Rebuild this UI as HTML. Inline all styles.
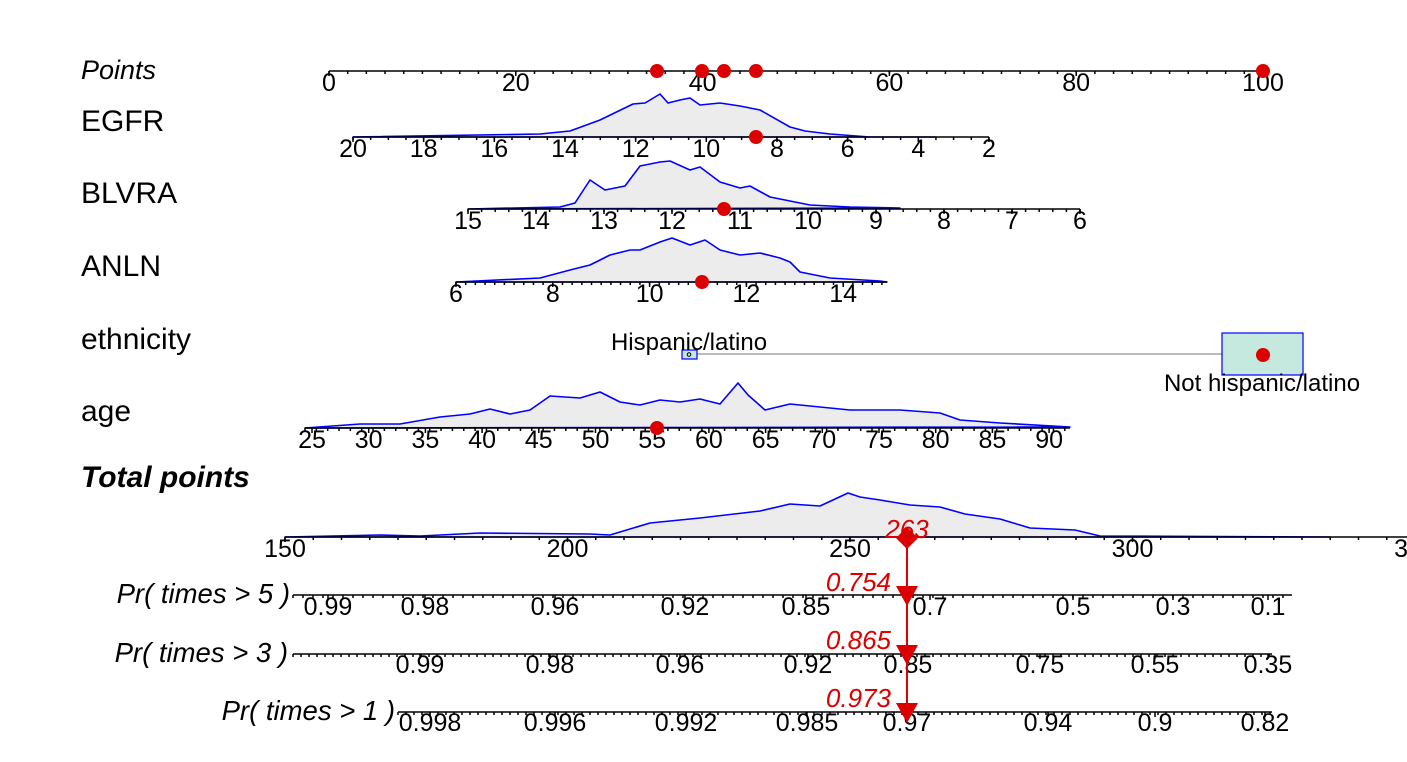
<!DOCTYPE html>
<html><head><meta charset="utf-8"><style>
html,body{margin:0;padding:0;background:#fff;}
svg{display:block;font-family:"Liberation Sans",Arial,sans-serif;}
</style></head><body>
<svg id="s" width="1407" height="762" viewBox="0 0 1407 762" xmlns="http://www.w3.org/2000/svg">
<g font-size="30" fill="#000">
<text x="81" y="79" font-style="italic" font-size="27">Points</text>
<text x="81" y="131">EGFR</text>
<text x="81" y="203">BLVRA</text>
<text x="81" y="276">ANLN</text>
<text x="81" y="349">ethnicity</text>
<text x="81" y="421">age</text>
<text x="81" y="487" font-weight="bold" font-style="italic">Total points</text>
<text x="290" y="603" font-style="italic" font-size="27.5" text-anchor="end">Pr( times &gt; 5 )</text>
<text x="288" y="662" font-style="italic" font-size="27.5" text-anchor="end">Pr( times &gt; 3 )</text>
<text x="395" y="720" font-style="italic" font-size="27.5" text-anchor="end">Pr( times &gt; 1 )</text>
</g>
<g fill="#ececec" stroke="#0000ff" stroke-width="1.6" stroke-linejoin="round">
<path d="M353,137 L540,134 570,131 600,120 633,104 645,103 660,94 668,103 680,100 690,98 700,105 720,103 740,106 760,110 790,127 805,131 830,134 870,137 935,137 Z"/>
<path d="M468,209 L560,207 575,203 590,180 605,190 625,186 640,166 660,162 670,161 690,170 700,167 720,182 740,188 750,186 770,197 790,201 810,205 850,207 900,208 Z"/>
<path d="M456,282 L540,278 570,270 590,265 610,255 630,250 640,250 660,242 672,238 690,245 705,240 720,250 740,255 760,253 780,258 790,262 800,272 830,278 880,281 887,282 Z"/>
<path d="M305,428 L360,424 400,424 440,417 470,414 490,409 510,414 530,410 550,396 580,398 600,392 620,402 640,405 660,400 680,402 700,399 720,404 738,383 748,395 765,410 790,404 820,407 850,410 900,410 940,413 960,420 1000,423 1070,427 Z"/>
<path d="M285,537 L380,535 420,536 480,533 590,534 610,535 650,523 700,518 760,511 790,504 820,506 848,493 860,497 880,500 910,505 940,507 965,514 1000,519 1030,528 1075,530 1100,536 1330,537 Z"/>
</g>
<g id="axes" stroke="#000" stroke-width="1.5"></g>
<g id="labs" font-size="25" fill="#000" text-anchor="middle"></g>
<line x1="689" y1="354" x2="1263" y2="354" stroke="#bbb" stroke-width="2"/>
<rect x="682" y="350" width="15" height="9" fill="#c6e9df" stroke="#00f" stroke-width="1.2"/>
<circle cx="689" cy="354.5" r="1.8" fill="none" stroke="#000"/>
<rect x="1222" y="333" width="81" height="42" fill="#c6e9df" stroke="#00f" stroke-width="1.2"/>
<text x="689" y="350" font-size="24" text-anchor="middle">Hispanic/latino</text>
<text x="1262" y="391" font-size="24" text-anchor="middle">Not hispanic/latino</text>
<g fill="#dd0000">
<circle cx="657" cy="71" r="7"/><circle cx="702" cy="71" r="7"/><circle cx="724" cy="71" r="7"/><circle cx="756" cy="71" r="7"/><circle cx="1263" cy="71" r="7"/>
<circle cx="756" cy="137" r="7"/><circle cx="724" cy="209" r="7"/><circle cx="702" cy="282" r="7"/>
<circle cx="1263" cy="355" r="7"/><circle cx="657" cy="428" r="7"/>
<line x1="907" y1="537" x2="907" y2="712" stroke="#dd0000" stroke-width="2"/>
<path d="M907,527 L918,538 907,549 896,538 Z"/>
<path d="M896,586 L918,586 907,606 Z"/>
<path d="M896,645 L918,645 907,665 Z"/>
<path d="M896,703 L918,703 907,723 Z"/>
<g font-size="26" font-style="italic">
<text x="907" y="538" text-anchor="middle">263</text>
<text x="891" y="591" text-anchor="end">0.754</text>
<text x="891" y="649" text-anchor="end">0.865</text>
<text x="891" y="707" text-anchor="end">0.973</text>
</g>
</g>
</svg>
<script>
var ax=document.getElementById('axes'),lb=document.getElementById('labs');
function L(x1,y1,x2,y2){var l=document.createElementNS('http://www.w3.org/2000/svg','line');l.setAttribute('x1',x1);l.setAttribute('y1',y1);l.setAttribute('x2',x2);l.setAttribute('y2',y2);ax.appendChild(l);}
function T(x,y,s){var t=document.createElementNS('http://www.w3.org/2000/svg','text');t.setAttribute('x',x);t.setAttribute('y',y);t.textContent=s;lb.appendChild(t);}
function axis(y,x0,x1,labels,minorStep,ly){L(x0,y,x1,y);
 for(var x=x0;x<=x1+0.1;x+=minorStep){L(x,y,x,y+3);}
 labels.forEach(function(p){L(p[0],y,p[0],y+5);T(p[0],ly,p[1]);});}
var pts=[];for(var i=0;i<=100;i+=20)pts.push([329+i*9.34,String(i)]);
axis(71,329,1263,pts,9.34*2,91);
var e=[];for(var v=20;v>=2;v-=2)e.push([353+(20-v)*35.33,String(v)]);
axis(137,353,989,e,35.33/2,157);
var b=[];for(var v=15;v>=6;v--)b.push([468+(15-v)*68,String(v)]);
axis(209,468,1080,b,68/5,229);
var a=[];[6,8,10,12,14].forEach(function(v,i){a.push([456+(v-6)*48.4,String(v)]);});
axis(282,456,887,a,48.4/5,302);
var g=[];for(var v=25;v<=90;v+=5)g.push([312+(v-25)*11.34,String(v)]);
axis(428,305,1070,g,11.34,448);
var t=[];for(var v=150;v<=350;v+=50)t.push([285+(v-150)*5.65,String(v)]);
axis(537,285,1407,t,5.65*5,557);
axis(595,293,1292,[[328,'0.99'],[425,'0.98'],[555,'0.96'],[685,'0.92'],[806,'0.85'],[930,'0.7'],[1073,'0.5'],[1173,'0.3'],[1268,'0.1']],10,615);
axis(654,293,1272,[[420,'0.99'],[550,'0.98'],[680,'0.96'],[808,'0.92'],[908,'0.85'],[1040,'0.75'],[1155,'0.55'],[1268,'0.35']],8,673);
axis(712,398,1272,[[430,'0.998'],[555,'0.996'],[686,'0.992'],[807,'0.985'],[907,'0.97'],[1048,'0.94'],[1155,'0.9'],[1265,'0.82']],8,731);
</script>
</body></html>
